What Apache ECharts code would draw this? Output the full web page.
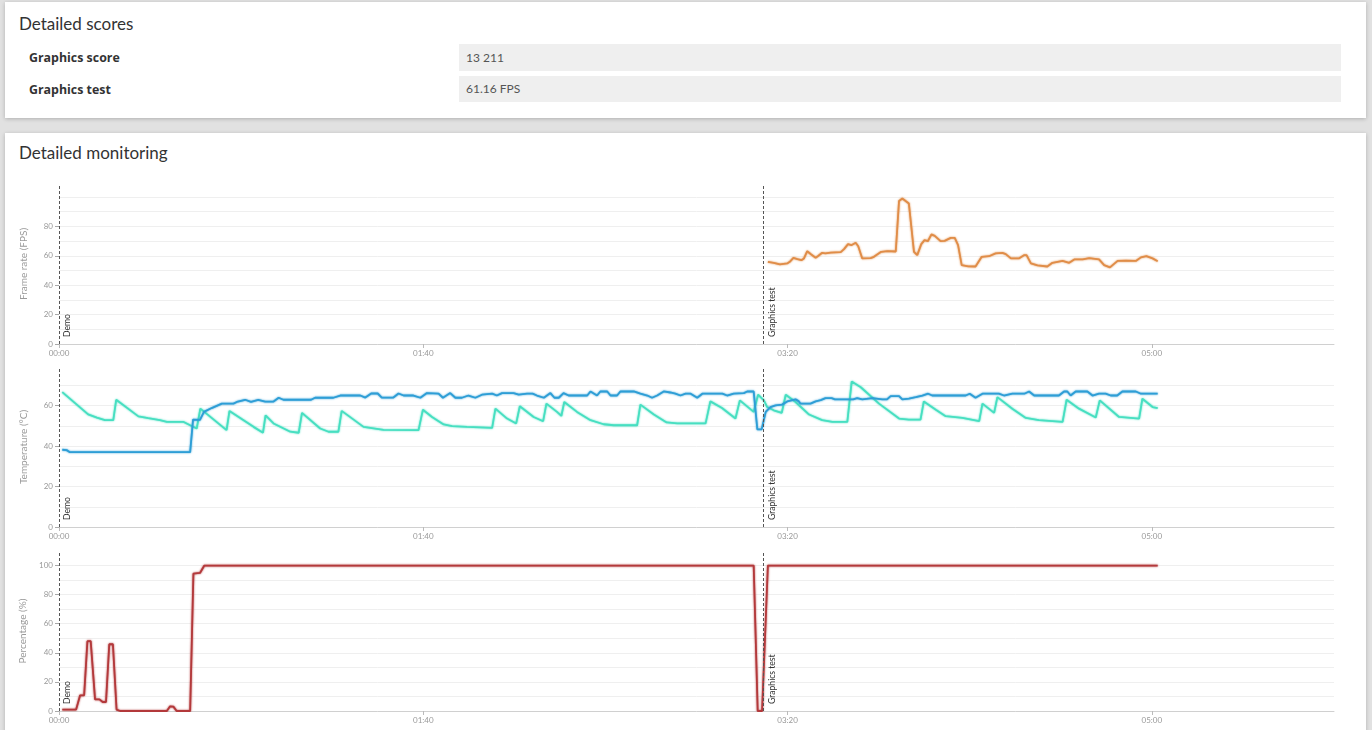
<!DOCTYPE html>
<html>
<head>
<meta charset="utf-8">
<title>Detailed monitoring</title>
<script src="https://cdn.jsdelivr.net/npm/echarts@6/dist/echarts.min.js"></script>
<style>
    html, body { margin: 0; padding: 0; }
    body {
        width: 1372px; height: 730px; overflow: hidden; position: relative;
        background: #e1e1e1; font-family: Lato, "Open Sans", sans-serif; color: #333;
    }
    .card {
        position: absolute; left: 5px; width: 1361px; background: #fff;
        box-shadow: 0 1px 4px rgba(0, 0, 0, 0.22);
    }
    .card h2 {
        position: absolute; left: 14px; margin: 0; font-size: 17px; font-weight: 400; color: #333;
    }
    .score-row { position: absolute; left: 0; width: 100%; }
    .score-row .name {
        position: absolute; left: 24px; font-family: "Open Sans", sans-serif;
        font-size: 12.4px; font-weight: 700; color: #333;
    }
    .score-row .value {
        position: absolute; left: 454px; width: 882px; background: #efefef;
        font-size: 12px; color: #555; box-sizing: border-box; padding-left: 7px;
    }
    #monitor { position: absolute; left: 0; top: 165px; width: 1372px; height: 565px; }
</style>
</head>
<body>

<div class="card" style="top:2px;height:116px;">
    <h2 style="top:11px;">Detailed scores</h2>
    <div class="score-row" style="top:42px;">
        <span class="name" style="top:5px;">Graphics score</span>
        <span class="value" style="top:0;height:27px;line-height:27px;">13 211</span>
    </div>
    <div class="score-row" style="top:74px;">
        <span class="name" style="top:5px;">Graphics test</span>
        <span class="value" style="top:0;height:26px;line-height:26px;">61.16 FPS</span>
    </div>
</div>

<div class="card" style="top:133px;height:620px;">
    <h2 style="top:9px;">Detailed monitoring</h2>
</div>

<div id="monitor"></div>

<script>
// ==========================
// data (time in seconds)
// ==========================
var markerTimes = [0, 193.4];
var markerNames = ['Demo', 'Graphics test'];

var fpsData = [
    [194.6, 55.9], [196.2, 55.2], [197.9, 54.1], [199.9, 54.8], [200.6, 55.9], [201.6, 58.6], [202.7, 57.7],
    [203.8, 57.0], [204.5, 58.2], [205.4, 63.1], [206.5, 60.9], [207.7, 58.6], [208.3, 59.7], [209.5, 62.0],
    [210.4, 61.6], [211.8, 62.2], [214.6, 62.5], [215.5, 64.5], [216.6, 67.9], [217.5, 67.2], [218.7, 68.8],
    [219.4, 66.5], [220.5, 58.2], [222.8, 58.4], [223.7, 59.3], [225.7, 62.7], [227.4, 63.1], [229.7, 62.9],
    [230.6, 97.3], [231.5, 98.9], [233.3, 95.5], [234.7, 62.7], [235.6, 60.4], [236.7, 67.9], [237.6, 70.6],
    [238.5, 69.9], [239.5, 74.5], [240.4, 73.5], [242.0, 69.9], [243.1, 70.1], [244.8, 72.2], [245.9, 72.2],
    [246.8, 67.2], [247.8, 53.6], [249.6, 52.8], [251.6, 52.7], [253.3, 59.3], [255.3, 59.7], [257.1, 61.6],
    [259.0, 62.0], [259.9, 61.1], [261.3, 58.2], [263.5, 58.2], [264.9, 60.4], [265.6, 60.4], [266.8, 54.8],
    [268.6, 53.4], [271.3, 52.7], [272.7, 55.2], [275.5, 56.5], [277.3, 55.2], [278.7, 57.5], [281.0, 57.5],
    [282.8, 58.4], [285.5, 57.5], [286.9, 53.6], [288.5, 52.1], [290.6, 56.5], [292.9, 56.7], [295.6, 56.5],
    [297.0, 58.9], [298.5, 59.7], [300.2, 58.2], [301.6, 56.3]
];

var gpuTempData = [
    [0.9, 38.2], [2.1, 38], [3.0, 37], [36, 37], [36.8, 53.1], [38.7, 53], [39.8, 56.9], [41.9, 58.8],
    [44.7, 61], [47.9, 61], [48.8, 61.8], [51.1, 62.9], [52.7, 61.9], [54.7, 62.9], [56.6, 62], [58.9, 62],
    [60.3, 63.9], [61.6, 62.9], [69.2, 62.9], [70.3, 63.9], [75.3, 63.9], [77.2, 65], [82.7, 65], [84.1, 64],
    [85.7, 66], [87.5, 66], [88.6, 64], [91.8, 64], [93.2, 66], [94.6, 65], [97.3, 65], [99.2, 63.9],
    [101, 66.2], [104.2, 65.9], [105.4, 63.9], [107.4, 66.2], [108.8, 63.9], [110.6, 63.9], [112.4, 65],
    [114.3, 63.9], [116.1, 65.4], [118.9, 65.9], [120.2, 65], [121.6, 66.2], [124.8, 66.2], [126.2, 65.4],
    [128.5, 65.9], [130, 65.9], [131.2, 65], [133.1, 63.9], [134.9, 66.2], [136, 63.9], [137.2, 63.9],
    [138.5, 66.2], [139.9, 65], [145, 65], [145.9, 67], [147.7, 65], [148.6, 67], [150.5, 67], [151.4, 65],
    [153.2, 65], [154.1, 67], [157.8, 67], [159.6, 65.9], [161.5, 65], [162.8, 63.9], [164.2, 65], [166, 67],
    [167.8, 66.5], [169.2, 65.9], [170.6, 65], [172, 65.9], [173.4, 65.9], [175.2, 63.9], [176.6, 65.9],
    [182.1, 65.9], [183.4, 65], [185.2, 65.9], [188, 66.2], [188.9, 67], [190.7, 67], [191.7, 48.3],
    [192.9, 48.3], [194, 56.9], [195.3, 59.3], [196.7, 60.1], [198.5, 60.5], [199.9, 62.1], [202.2, 63.1],
    [203.1, 62.1], [203.5, 61], [206.3, 61], [207.7, 62.1], [209.1, 62.7], [210.4, 63.7], [212.1, 63.7],
    [213, 63.1], [218, 63.1], [219.1, 63.7], [220.5, 63.1], [223.3, 63.7], [226, 63.1], [227.3, 63.1],
    [228.3, 64.7], [230.6, 64.7], [231.5, 63.1], [233.3, 63.5], [235.2, 64.2], [237, 65], [238.6, 65.9],
    [239.7, 65], [248.9, 65], [250, 65.9], [251.6, 63.9], [253.5, 65.9], [258, 65.9], [259.4, 65],
    [261.7, 65.9], [265, 65.9], [266.3, 67], [267.7, 65], [274.5, 65], [275.9, 67], [276.8, 67], [277.7, 65],
    [279.1, 67], [282.3, 67], [283.7, 65], [285.5, 65.9], [287.3, 65.9], [288.7, 65], [290.5, 65],
    [291.9, 67], [295.6, 67], [297, 65.9], [301.6, 65.9]
];

var cpuTempData = [
    [0.9, 66.7], [8, 55.7], [10.4, 54.1], [12.6, 52.8], [14.9, 52.8], [15.7, 62.9], [21.8, 54.7], [24.5, 53.8],
    [27.7, 52.8], [29.6, 52], [34.1, 52], [36, 50.3], [37.8, 48.7], [38.8, 58.5], [46, 47.9], [46.8, 57.4],
    [53.4, 49.5], [56, 46.6], [56.7, 55.2], [58.9, 51.2], [63.5, 47.1], [65.8, 46.6], [66.7, 56.4],
    [71.7, 48.7], [74, 47.1], [76.7, 47.1], [77.6, 57.4], [83.6, 49.5], [89.1, 48], [98.7, 47.9], [99.9, 58],
    [102.4, 54.4], [105.6, 50.7], [107.9, 49.9], [112, 49.5], [118.9, 49], [119.8, 58.5], [123, 53.6],
    [125.5, 51.2], [126.5, 59.7], [130.3, 54.4], [132.9, 52.3], [133.8, 61], [136.7, 56.9], [137.9, 54.9],
    [138.7, 61.8], [142.2, 56.9], [145.9, 52.8], [149.5, 50.8], [152.3, 50.3], [158.7, 50.3], [159.6, 60.5],
    [163.3, 55.6], [166.8, 51.7], [169.7, 51.2], [177.5, 51.2], [178.8, 62.1], [182, 58.8], [185.7, 53.6],
    [186.9, 62.6], [190.7, 56.9], [191.9, 65.4], [193.5, 62.6], [194.4, 59.3], [196.2, 57.7], [198.4, 56.4],
    [199.5, 65.4], [202.2, 61.8], [205.9, 55.6], [209.5, 52.8], [212.3, 52], [216.4, 52], [217.6, 71.9],
    [220.1, 69.1], [225.1, 61], [230.6, 53.6], [233.3, 53.1], [236.5, 53.1], [237.4, 62.1], [240.7, 58],
    [243.4, 54.8], [248, 53.9], [252.6, 52.3], [253.5, 61], [256.7, 56.4], [257.6, 64.2], [261.7, 58.5],
    [265.4, 53.9], [269, 52.8], [275.5, 52], [276.6, 62.9], [280, 58.5], [284.6, 54.1], [285.7, 62.6],
    [291, 54.4], [296.5, 53.6], [297.4, 63.4], [300.2, 59.3], [301.6, 58.8]
];

var gpuLoadData = [
    [0.9, 1], [4.7, 1], [5.8, 10.8], [6.9, 10.8], [7.8, 48], [8.7, 48], [9.9, 8], [11.1, 8], [12, 6.2],
    [12.9, 6.2], [13.8, 45.9], [14.8, 45.9], [15.8, 1], [16.8, 0], [29.6, 0], [30.5, 3.2], [31.4, 3],
    [32.3, 0], [36, 0], [36.9, 94.5], [38.7, 94.9], [39.9, 100], [190.7, 100], [191.8, 0], [193, 0],
    [194.6, 100], [301.6, 100]
];

// axis tops (data max * 1.1) and labelled values
var fpsMax = 108.8, tempMax = 79.1, loadMax = 110;
var fpsLabels = [0, 20, 40, 60, 80];
var tempLabels = [0, 20, 40, 60];
var loadLabels = [0, 20, 40, 60, 80, 100];

// ==========================
// helpers
// ==========================
var FONT = 'Lato';

function fmtTime(v) {
    var m = Math.floor(v / 60), s = Math.round(v % 60);
    return (m < 10 ? '0' : '') + m + ':' + (s < 10 ? '0' : '') + s;
}

function xAxisFor(idx) {
    return {
        type: 'value', gridIndex: idx, min: 0, max: 350, interval: 100,
        axisLine: { show: true, lineStyle: { color: '#d0d0d0' } },
        axisTick: { show: true, length: 4, lineStyle: { color: '#bbb' } },
        axisLabel: {
            formatter: fmtTime, color: '#999', fontSize: 8, fontFamily: FONT,
            margin: 5, showMaxLabel: false
        },
        splitLine: { show: false }
    };
}

// grid lines every 10 units, no labels
function yGridAxis(idx, max) {
    return {
        type: 'value', gridIndex: idx, min: 0, max: max, interval: 10,
        axisLine: { show: false }, axisTick: { show: false }, axisLabel: { show: false },
        splitLine: { show: true, showMaxLine: false, lineStyle: { color: '#efefef', width: 1 } }
    };
}

// labels + ticks on the round values only
function yLabelAxis(idx, name, max, labels) {
    return {
        type: 'value', gridIndex: idx, min: 0, max: max, interval: 20, position: 'left',
        name: name, nameLocation: 'middle', nameGap: 30,
        nameTextStyle: { color: '#999', fontSize: 10, fontFamily: FONT },
        axisLine: { show: false },
        axisTick: { show: true, length: 4, customValues: labels, lineStyle: { color: '#aaa' } },
        axisLabel: { color: '#999', fontSize: 8, fontFamily: FONT, margin: 6, customValues: labels },
        splitLine: { show: false }
    };
}

function markers() {
    return {
        silent: true, symbol: 'none', animation: false,
        lineStyle: { type: [3, 2], color: '#555', width: 1 },
        label: {
            show: true, position: 'insideStartBottom', distance: [7, 4],
            color: '#333', fontSize: 8.6, fontFamily: FONT,
            formatter: function(p) { return p.name; }
        },
        data: markerTimes.map(function(t, i) { return { xAxis: t, name: markerNames[i] }; })
    };
}

function lineSeries(idx, data, color, withMarkers) {
    var s = {
        type: 'line', xAxisIndex: idx, yAxisIndex: idx * 2, data: data,
        showSymbol: false, animation: false,
        lineStyle: { color: color, width: 1.8, shadowColor: color, shadowBlur: 2 },
        itemStyle: { color: color }
    };
    if (withMarkers) s.markLine = markers();
    return s;
}

// ==========================
// chart
// ==========================
var chart = echarts.init(document.getElementById('monitor'));
chart.setOption({
    animation: false,
    textStyle: { fontFamily: FONT },
    grid: [
        { left: 59, right: 38, top: 19, height: 160 },
        { left: 59, right: 38, top: 202, height: 160 },
        { left: 59, right: 38, top: 386, height: 160 }
    ],
    xAxis: [xAxisFor(0), xAxisFor(1), xAxisFor(2)],
    yAxis: [
        yGridAxis(0, fpsMax), yLabelAxis(0, 'Frame rate (FPS)', fpsMax, fpsLabels),
        yGridAxis(1, tempMax), yLabelAxis(1, 'Temperature (°C)', tempMax, tempLabels),
        yGridAxis(2, loadMax), yLabelAxis(2, 'Percentage (%)', loadMax, loadLabels)
    ],
    series: [
        lineSeries(0, fpsData, '#e08d48', true),
        lineSeries(1, cpuTempData, '#47dfc1', true),
        lineSeries(1, gpuTempData, '#2e9ed6', false),
        lineSeries(2, gpuLoadData, '#b3393b', true)
    ]
});
</script>
</body>
</html>
